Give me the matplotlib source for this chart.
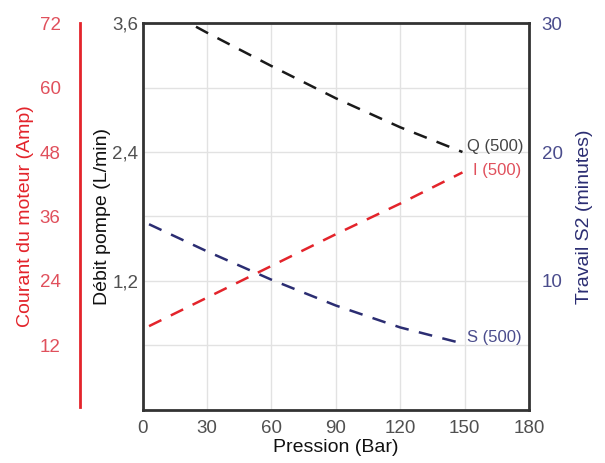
import matplotlib
matplotlib.use("Agg")
import matplotlib.pyplot as plt

# Data
pression_q = [5, 30, 60, 90, 120, 149]
debit_q = [3.78, 3.51, 3.20, 2.90, 2.63, 2.40]

pression_i = [3, 30, 60, 90, 120, 149]
courant_i = [15.6, 20.9, 26.8, 32.7, 38.4, 44.2]

pression_s = [3, 30, 60, 90, 120, 148]
travail_s = [14.4, 12.3, 10.1, 8.1, 6.4, 5.2]

x_ticks = [0, 30, 60, 90, 120, 150, 180]
debit_ticks = [1.2, 2.4, 3.6]
debit_labels = ["1,2", "2,4", "3,6"]
courant_ticks = [12, 24, 36, 48, 60, 72]
travail_ticks = [10, 20, 30]

NARROW = ["Liberation Sans Narrow", "Liberation Sans", "DejaVu Sans"]
REG = ["Liberation Sans", "DejaVu Sans"]

RED = "#e3242b"
RED_T = "#e0505c"
NAVY = "#2b2d72"
NAVY_T = "#4a4c8c"
GRAY_T = "#505050"

fig = plt.figure(figsize=(6.05, 4.63), dpi=100)
ax = fig.add_axes([0.2357, 0.1145, 0.8744 - 0.2357, 0.9503 - 0.1145])

ax.set_xlim(0, 180)
ax.set_ylim(0, 3.6)
ax.set_xticks(x_ticks)
ax.set_xticklabels([str(t) for t in x_ticks], family=REG, fontsize=13.5, color=GRAY_T)
ax.set_yticks(debit_ticks)
ax.set_yticklabels(debit_labels, family=REG, fontsize=13.5, color=GRAY_T)
ax.set_yticks([0.6, 1.8, 3.0], minor=True)
ax.tick_params(axis="both", which="both", length=0)
ax.tick_params(axis="x", pad=7)
ax.tick_params(axis="y", pad=3)
ax.grid(True, which="both", color="#e2e2e2", lw=1.0)
ax.set_axisbelow(True)
for s in ax.spines.values():
    s.set_color("#333333")
    s.set_linewidth(2.0)
ax.set_xlabel("Pression (Bar)", family=NARROW, fontsize=14, color="#111111", labelpad=2)
ax.set_ylabel("Débit pompe (L/min)", family=NARROW, fontsize=14, color="#111111", labelpad=1)

ax.plot(pression_q, debit_q, color="#1a1a1a", lw=1.8, dashes=(5.5, 4.2), clip_on=True)

# red current axis
axr = ax.twinx()
axr.set_ylim(0, 72)
axr.spines["left"].set_position(("axes", -0.162))
axr.spines["left"].set_visible(True)
axr.spines["left"].set_color(RED)
axr.spines["left"].set_linewidth(2.0)
axr.spines["left"].set_bounds(0.5, 72)
axr.spines["right"].set_visible(False)
axr.spines["top"].set_visible(False)
axr.spines["bottom"].set_visible(False)
axr.yaxis.set_label_position("left")
axr.yaxis.set_ticks_position("left")
axr.set_yticks(courant_ticks)
axr.set_yticklabels([str(t) for t in courant_ticks], family=REG, fontsize=13.5, color=RED_T)
axr.tick_params(axis="y", length=0, pad=14)
axr.set_ylabel("Courant du moteur (Amp)", family=NARROW, fontsize=14, color=RED, labelpad=4)
axr.plot(pression_i, courant_i, color=RED, lw=1.8, dashes=(5.5, 4.2))

# navy time axis
axs = ax.twinx()
axs.set_ylim(0, 30)
for s in axs.spines.values():
    s.set_visible(False)
axs.set_yticks(travail_ticks)
axs.set_yticklabels([str(t) for t in travail_ticks], family=REG, fontsize=13.5, color=NAVY_T)
axs.tick_params(axis="y", length=0, pad=9)
axs.set_ylabel("Travail S2 (minutes)", family=NARROW, fontsize=14, color=NAVY, labelpad=10)
axs.plot(pression_s, travail_s, color=NAVY, lw=1.8, dashes=(5.5, 4.2))

# curve labels
ax.text(151, 2.45, "Q (500)", family=NARROW, fontsize=12, color="#444444", ha="left", va="center")
axr.text(154, 44.5, "I (500)", family=NARROW, fontsize=12, color=RED_T, ha="left", va="center")
axs.text(151, 5.6, "S (500)", family=NARROW, fontsize=12, color=NAVY_T, ha="left", va="center")

fig.savefig("out.png", dpi=100)
